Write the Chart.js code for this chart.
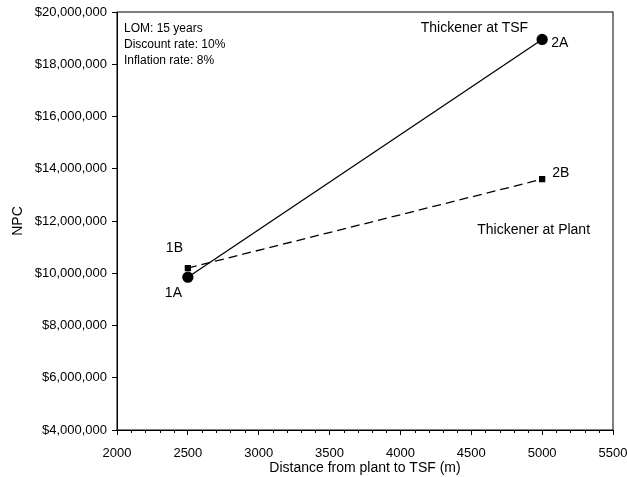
<!DOCTYPE html>
<html>
<head>
<meta charset="utf-8">
<script src="https://cdn.jsdelivr.net/npm/chart.js@4"></script>
<style>
  body { margin: 0; background: #fff; }
  #wrap { width: 627px; height: 477px; }
</style>
</head>
<body>
<div id="wrap"><canvas id="npc"></canvas></div>
<script>
// données
var distances = [2500, 5000];
var npcTSF = [9850000, 18950000];     // Thickener at TSF (1A, 2A)
var npcPlant = [10200000, 13600000];  // Thickener at Plant (1B, 2B)
var ptLabelsTSF = ['1A', '2A'];
var ptLabelsPlant = ['1B', '2B'];
var notes = ['LOM: 15 years', 'Discount rate: 10%', 'Inflation rate: 8%'];

var FONT = '"Liberation Sans", Arial, sans-serif';

// boîte, petites graduations et étiquettes
var decor = {
  id: 'decor',
  afterDraw: function (chart) {
    var c = chart.ctx, a = chart.chartArea;
    var x = chart.scales.x, y = chart.scales.y;
    c.save();
    c.strokeStyle = '#000';
    c.lineWidth = 1;
    c.strokeRect(a.left, a.top, a.right - a.left, a.bottom - a.top);
    // graduations mineures tous les 100 m
    c.beginPath();
    for (var v = 2100; v < 5500; v += 100) {
      if (v % 500 === 0) continue;
      var px = Math.round(x.getPixelForValue(v)) + 0.5;
      c.moveTo(px, a.bottom);
      c.lineTo(px, a.bottom + 3);
    }
    c.stroke();

    c.fillStyle = '#000';
    c.font = '12px ' + FONT;
    c.textBaseline = 'middle';
    // notes en haut à gauche
    notes.forEach(function (t, i) {
      c.fillText(t, a.left + 7, a.top + 17 + i * 16);
    });
    // étiquettes des points
    c.font = '14px ' + FONT;
    function lab(t, vx, vy, dx, dy, align) {
      c.textAlign = align || 'left';
      c.fillText(t, x.getPixelForValue(vx) + dx, y.getPixelForValue(vy) + dy);
    }
    lab(ptLabelsTSF[0], distances[0], npcTSF[0], -23, 16);
    lab(ptLabelsPlant[0], distances[0], npcPlant[0], -22, -20);
    lab(ptLabelsTSF[1], distances[1], npcTSF[1], 9, 4);
    lab(ptLabelsPlant[1], distances[1], npcPlant[1], 10, -6);
    lab('Thickener at TSF', distances[1], npcTSF[1], -14, -11, 'right');
    lab('Thickener at Plant', 5338, 11660000, 0, 0, 'right');
    c.restore();
  }
};

var ctx = document.getElementById('npc').getContext('2d');
var chart = new Chart(ctx, {
  type: 'scatter',
  data: {
    datasets: [{
      label: 'Thickener at TSF',
      data: distances.map(function (d, i) { return { x: d, y: npcTSF[i] }; }),
      showLine: true,
      borderColor: '#000',
      backgroundColor: '#000',
      borderWidth: 1.3,
      pointStyle: 'circle',
      pointRadius: 5
    }, {
      label: 'Thickener at Plant',
      data: distances.map(function (d, i) { return { x: d, y: npcPlant[i] }; }),
      showLine: true,
      borderColor: '#000',
      backgroundColor: '#000',
      borderWidth: 1.3,
      borderDash: [9, 5],
      pointStyle: 'rect',
      pointRadius: 3.5
    }]
  },
  options: {
    responsive: true,
    maintainAspectRatio: false,
    animation: false,
    layout: { padding: { top: 12, right: 14, left: 10, bottom: 0 } },
    plugins: {
      legend: { display: false },
      tooltip: { enabled: false }
    },
    scales: {
      x: {
        type: 'linear',
        min: 2000, max: 5500,
        ticks: {
          stepSize: 500, color: '#000', font: { family: FONT, size: 13 }, padding: 11,
          callback: function (v) { return String(v); }
        },
        grid: { drawOnChartArea: false, tickLength: 5, color: '#000', tickColor: '#000' },
        border: { color: '#000', width: 1 },
        title: { display: true, text: 'Distance from plant to TSF (m)', color: '#000', font: { family: FONT, size: 14 }, padding: { top: 0, bottom: 0 } },
        afterFit: function (s) { s.height = 47; s.paddingLeft = 0; s.paddingRight = 0; }
      },
      y: {
        min: 4000000, max: 20000000,
        ticks: {
          stepSize: 2000000, color: '#000', font: { family: FONT, size: 13 }, padding: 5,
          callback: function (v) { return '$' + v.toLocaleString('en-US'); }
        },
        grid: { drawOnChartArea: false, tickLength: 5, color: '#000', tickColor: '#000' },
        border: { color: '#000', width: 1 },
        title: { display: true, text: 'NPC', color: '#000', font: { family: FONT, size: 14 }, padding: { top: 0, bottom: 0 } },
        afterFit: function (s) { s.width = 107; s.paddingTop = 0; s.paddingBottom = 0; }
      }
    }
  },
  plugins: [decor]
});
</script>
</body>
</html>
